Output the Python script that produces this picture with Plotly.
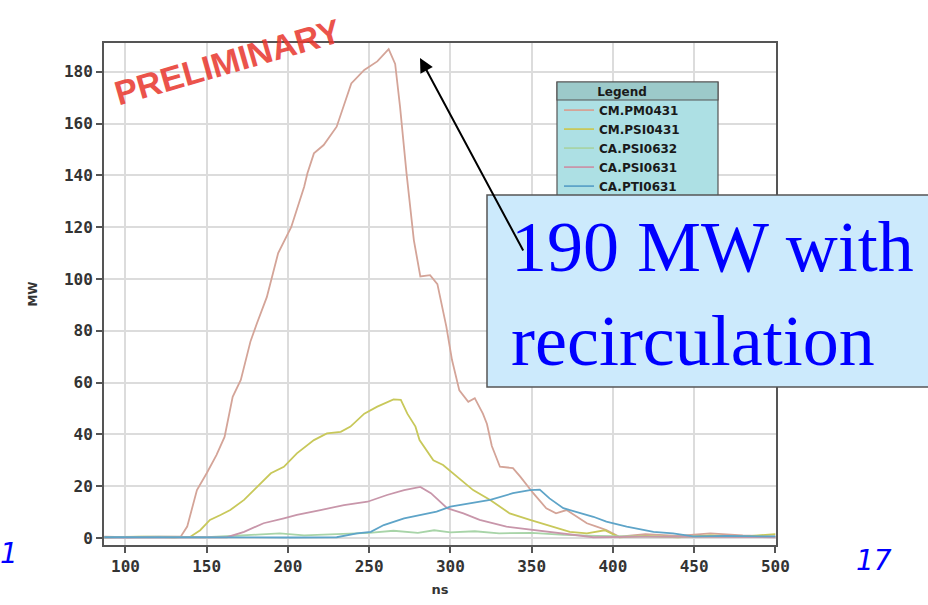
import plotly.graph_objects as go

# ---- data ----
pm0431_x = [87, 100, 120, 134, 138, 144, 150, 156, 161, 166, 171, 177, 181, 187, 194, 202, 210, 212, 216, 222,
            230, 239, 247, 255, 262, 266, 269, 273, 277.5, 281.5, 287.5, 292, 297.5, 301, 305.5, 311, 315, 320,
            322.5, 325.5, 330.5, 338.5, 343, 351, 359, 365, 371.5, 378, 384, 390, 396, 404, 420, 440, 460, 480, 500]
pm0431_y = [0.5, 0.3, 0.5, 0.5, 4.4, 18.5, 25, 32, 39, 54.5, 61, 76, 83, 93, 110, 120, 135.6, 140.8, 148.5, 151.7,
            158.8, 175.5, 180.7, 184, 188.7, 183, 166.5, 140.8, 115, 101, 101.5, 98, 81.6, 68.7, 57, 52.6, 54, 48,
            44, 35.5, 27.5, 27, 23.7, 17.3, 11.5, 9.5, 10.8, 8, 5.7, 4.4, 3.1, 0.5, 1.5, 0.8, 1.8, 1, 0.5]

psi0431_x = [87, 110, 130, 140, 146, 152, 158.5, 164.5, 173, 181, 189.5, 197.5, 205.5, 216, 224, 232.5, 238.5, 247,
             255, 265, 269.5, 273.5, 278.5, 281, 289.5, 295.5, 301.5, 314, 324.5, 336.5, 349, 363.5, 373.5, 384,
             395, 404, 420, 440, 460, 480, 500]
psi0431_y = [0.3, 0.5, 0.3, 0.5, 3, 7, 8.9, 10.8, 14.7, 19.8, 25, 27.5, 32.7, 37.8, 40.4, 41, 43, 48,
             50.7, 53.5, 53.3, 48, 43, 37.8, 30, 28.2, 25, 18.5, 14.7, 9.5, 7, 4.4, 2.4, 1.8,
             3, 0.3, 0.8, 0.3, 1, 0.5, 1.5]

psi0632_x = [87, 120, 150, 170, 181, 195, 210, 230, 250, 265, 280, 290, 300, 315, 330, 350, 370, 390, 420, 460, 500]
psi0632_y = [0.3, 0.5, 0.3, 0.8, 1.3, 1.8, 1.0, 1.5, 2.0, 2.8, 2.0, 3.0, 2.2, 2.6, 1.8, 2.0, 1.2, 0.8, 0.5, 0.4, 0.5]

psi0631_x = [87, 120, 150, 162.5, 173, 185, 197.5, 205.5, 220, 234.5, 249, 261, 271.5, 281.5, 288, 294, 298, 308,
             318, 334.5, 351, 367.5, 388, 420, 460, 500]
psi0631_y = [0.2, 0.3, 0.2, 0.3, 2.4, 5.7, 7.6, 8.9, 10.8, 12.7, 14, 16.6, 18.5, 19.7, 17.3, 14, 11.5, 9.5,
             7, 4.4, 3.1, 1.8, 0.3, 0.5, 0.3, 0.3]

pti0631_x = [87, 120, 160, 200, 230, 242.5, 251, 259, 271.5, 283.5, 291.5, 300, 312, 324.5, 338.5, 349, 355, 361,
             369.5, 377.5, 388, 396, 408.5, 425, 437, 449.5, 470, 500]
pti0631_y = [0.3, 0.2, 0.3, 0.2, 0.3, 1.8, 2.4, 5, 7.6, 9.2, 10.2, 12.1, 13.4, 14.7, 17.3, 18.5, 18.7, 15.3,
             11.5, 10.2, 8.2, 6.3, 4.4, 2.4, 1.8, 0.6, 0.8, 0.6]

series_names = ["CM.PM0431", "CM.PSI0431", "CA.PSI0632", "CA.PSI0631", "CA.PTI0631"]
series_x = [pm0431_x, psi0431_x, psi0632_x, psi0631_x, pti0631_x]
series_y = [pm0431_y, psi0431_y, psi0632_y, psi0631_y, pti0631_y]
series_colors = ["#d4a498", "#c8c85a", "#a8d4a8", "#c896aa", "#5ea4c8"]

x_ticks = [100, 150, 200, 250, 300, 350, 400, 450, 500]
y_ticks = [0, 20, 40, 60, 80, 100, 120, 140, 160, 180]

fig = go.Figure()
for name, xs, ys, col in zip(series_names, series_x, series_y, series_colors):
    fig.add_trace(go.Scatter(x=xs, y=ys, mode="lines", name=name,
                             line=dict(color=col, width=1.8)))

# plot area: left 104, right 776, top 43, bottom 545 (px)
L, R, T, B = 104, 776, 43, 545
W, H = R - L, B - T
def px_x(p):
    return (p - L) / W
def px_y(p):
    return (B - p) / H

tick_font = dict(family="DejaVu Sans Mono", size=16, color="#333333", weight="bold")

fig.update_layout(
    width=928, height=605,
    margin=dict(l=L, r=928 - R, t=T, b=605 - B, autoexpand=False),
    paper_bgcolor="white", plot_bgcolor="white",
    showlegend=True,
    legend=dict(x=px_x(559), y=px_y(80), xanchor="left", yanchor="top",
                bgcolor="rgba(0,0,0,0)", borderwidth=0,
                font=dict(family="DejaVu Sans", size=12, color="#1a1a1a", weight="bold"),
                title=dict(text="Legend", side="top center",
                           font=dict(family="DejaVu Sans", size=12, color="#1a1a1a", weight="bold")),
                itemwidth=30, tracegroupgap=0),
    xaxis=dict(range=[86.8, 500.4], tickvals=x_ticks, ticks="outside", ticklen=6, tickwidth=1.5,
               tickcolor="#555555", tickfont=tick_font,
               showgrid=True, gridcolor="#dcdcdc", gridwidth=1.5, zeroline=False,
               showline=True, linecolor="#555555", linewidth=2, mirror=True,
               title=dict(text="ns", font=dict(family="DejaVu Sans", size=13, color="#333333", weight="bold"),
                          standoff=10)),
    yaxis=dict(range=[-2.7, 191.1], tickvals=y_ticks, ticks="outside", ticklen=6, tickwidth=1.5,
               tickcolor="#555555", tickfont=tick_font,
               showgrid=True, gridcolor="#dcdcdc", gridwidth=1.5, zeroline=False,
               showline=True, linecolor="#555555", linewidth=2, mirror=True,
               title=dict(text="MW", font=dict(family="DejaVu Sans", size=12, color="#333333", weight="bold"),
                          standoff=24)),
)

shapes = [
    # legend body
    dict(type="rect", xref="paper", yref="paper", x0=px_x(557), x1=px_x(718), y0=px_y(320), y1=px_y(82),
         fillcolor="#ade0e4", line=dict(color="#555555", width=1.2), layer="above"),
    # legend header band
    dict(type="rect", xref="paper", yref="paper", x0=px_x(557), x1=px_x(718), y0=px_y(100), y1=px_y(82),
         fillcolor="#9ccaca", line=dict(color="#555555", width=1.2), layer="above"),
    # callout box
    dict(type="rect", xref="paper", yref="paper", x0=px_x(487), x1=px_x(945), y0=px_y(387), y1=px_y(195),
         fillcolor="#cceafc", line=dict(color="#555555", width=1.5), layer="above"),
]
fig.update_layout(shapes=shapes)

annotations = [
    dict(xref="paper", yref="paper", x=px_x(509), y=px_y(205), xanchor="left", yanchor="top",
         text="190 MW with<br>recirculation", showarrow=False, align="left",
         font=dict(family="Liberation Serif", size=72, color="#0000ff")),
    dict(xref="paper", yref="paper", x=px_x(420), y=px_y(58), text="", showarrow=True,
         ax=104, ay=194, axref="pixel", ayref="pixel", arrowhead=2, arrowsize=1.4, arrowwidth=2,
         arrowcolor="black", standoff=0, startstandoff=0),
    dict(xref="paper", yref="paper", x=px_x(227), y=px_y(62), xanchor="center", yanchor="middle",
         text="PRELIMINARY", showarrow=False, textangle=-16, opacity=0.85,
         font=dict(family="Liberation Sans", size=34, color="#e8362c", weight="bold")),
    dict(xref="paper", yref="paper", x=px_x(874), y=px_y(560), xanchor="center", yanchor="middle",
         text="17", showarrow=False,
         font=dict(family="DejaVu Sans", size=28, color="#0000ff", style="italic")),
    dict(xref="paper", yref="paper", x=px_x(9), y=px_y(553), xanchor="center", yanchor="middle",
         text="1", showarrow=False,
         font=dict(family="DejaVu Sans", size=28, color="#0000ff", style="italic")),
]
fig.update_layout(annotations=annotations)

fig.write_html("out.html")
